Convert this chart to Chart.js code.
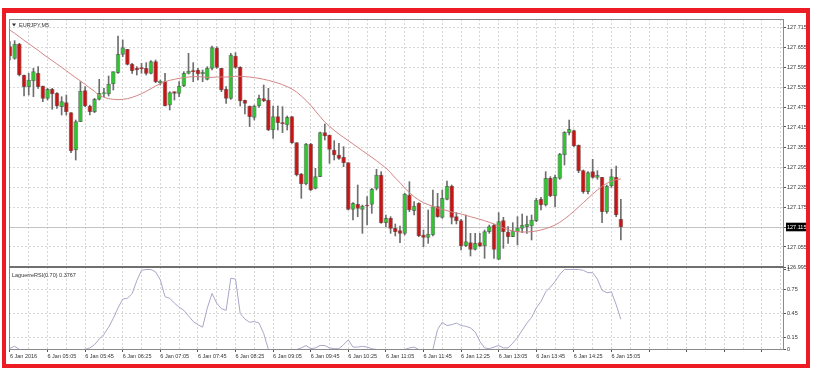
<!DOCTYPE html>
<html>
<head>
<meta charset="utf-8">
<script src="https://cdn.jsdelivr.net/npm/chart.js"></script>
<style>
  html, body { margin: 0; padding: 0; background: #fff; }
  #wrap { position: relative; width: 818px; height: 375px; }
  #frame { position: absolute; left: 2px; top: 8px; width: 808px; height: 360px; box-sizing: border-box;
           border: 4px solid #ed1c24; border-top-width: 5px; pointer-events: none; }
</style>
</head>
<body>
<div id="wrap">
  <canvas id="chart" width="818" height="375"></canvas>
  <div id="frame"></div>
</div>
<script>
var symbolTitle = "EURJPY,M5";
var rsiTitle = "LaguerreRSI(0.70) 0.3767";

// one label every 8 bars (40 minutes of M5)
var timeLabels = ["6 Jan 2016", "6 Jan 05:05", "6 Jan 05:45", "6 Jan 06:25", "6 Jan 07:05", "6 Jan 07:45",
    "6 Jan 08:25", "6 Jan 09:05", "6 Jan 09:45", "6 Jan 10:25", "6 Jan 11:05", "6 Jan 11:45",
    "6 Jan 12:25", "6 Jan 13:05", "6 Jan 13:45", "6 Jan 14:25", "6 Jan 15:05"];
var priceTicks = [126.995, 127.055, 127.115, 127.175, 127.235, 127.295, 127.355, 127.415, 127.475,
    127.535, 127.595, 127.655, 127.715];
var rsiTicks = [0, 0.15, 0.45, 0.75, 1];

var opens = [
    127.656, 127.621, 127.664, 127.571, 127.536, 127.553, 127.576, 127.538, 127.501, 127.528,
    127.516, 127.476, 127.488, 127.458, 127.346, 127.431, 127.524, 127.478, 127.461, 127.498,
    127.514, 127.514, 127.544, 127.578, 127.633, 127.648, 127.603, 127.591, 127.591, 127.591,
    127.576, 127.611, 127.548, 127.551, 127.481, 127.521, 127.516, 127.538, 127.576, 127.584,
    127.586, 127.574, 127.558, 127.591, 127.651, 127.591, 127.528, 127.501, 127.628, 127.594,
    127.495, 127.478, 127.444, 127.478, 127.500, 127.496, 127.406, 127.446, 127.427, 127.421,
    127.446, 127.368, 127.274, 127.244, 127.364, 127.231, 127.266, 127.398, 127.391, 127.346,
    127.331, 127.324, 127.308, 127.168, 127.183, 127.168, 127.181, 127.183, 127.231, 127.271,
    127.128, 127.141, 127.111, 127.104, 127.096, 127.211, 127.164, 127.186, 127.091, 127.084,
    127.091, 127.176, 127.144, 127.198, 127.238, 127.146, 127.134, 127.058, 127.068, 127.048,
    127.068, 127.058, 127.101, 127.121, 127.018, 127.134, 127.100, 127.086, 127.101, 127.111,
    127.116, 127.118, 127.134, 127.198, 127.181, 127.261, 127.208, 127.261, 127.331, 127.398,
    127.404, 127.361, 127.284, 127.221, 127.281, 127.264, 127.264, 127.161, 127.238, 127.264, 127.138];
var highs = [
    127.671, 127.674, 127.666, 127.571, 127.576, 127.591, 127.596, 127.538, 127.531, 127.531,
    127.518, 127.506, 127.511, 127.458, 127.436, 127.551, 127.536, 127.481, 127.501, 127.558,
    127.531, 127.568, 127.581, 127.688, 127.676, 127.648, 127.606, 127.596, 127.606, 127.608,
    127.614, 127.616, 127.556, 127.576, 127.521, 127.521, 127.551, 127.581, 127.636, 127.608,
    127.591, 127.586, 127.596, 127.658, 127.656, 127.591, 127.536, 127.636, 127.638, 127.596,
    127.496, 127.478, 127.481, 127.511, 127.541, 127.531, 127.478, 127.478, 127.476, 127.448,
    127.446, 127.368, 127.276, 127.366, 127.366, 127.291, 127.400, 127.424, 127.391, 127.374,
    127.366, 127.356, 127.308, 127.188, 127.241, 127.181, 127.206, 127.231, 127.288, 127.281,
    127.151, 127.146, 127.124, 127.118, 127.216, 127.251, 127.191, 127.188, 127.106, 127.166,
    127.226, 127.216, 127.226, 127.253, 127.241, 127.158, 127.138, 127.151, 127.096, 127.096,
    127.096, 127.106, 127.121, 127.124, 127.158, 127.144, 127.116, 127.128, 127.146, 127.154,
    127.148, 127.151, 127.201, 127.204, 127.281, 127.266, 127.271, 127.336, 127.401, 127.436,
    127.406, 127.361, 127.286, 127.281, 127.318, 127.284, 127.264, 127.241, 127.288, 127.298, 127.198];
var lows = [
    127.616, 127.618, 127.568, 127.508, 127.511, 127.506, 127.531, 127.491, 127.496, 127.468,
    127.471, 127.451, 127.451, 127.338, 127.316, 127.431, 127.476, 127.451, 127.458, 127.496,
    127.506, 127.508, 127.526, 127.576, 127.626, 127.601, 127.576, 127.571, 127.576, 127.571,
    127.574, 127.548, 127.541, 127.478, 127.466, 127.496, 127.506, 127.536, 127.574, 127.551,
    127.556, 127.551, 127.556, 127.586, 127.591, 127.521, 127.486, 127.498, 127.591, 127.478,
    127.454, 127.416, 127.436, 127.474, 127.491, 127.404, 127.381, 127.406, 127.398, 127.406,
    127.366, 127.268, 127.201, 127.241, 127.224, 127.229, 127.266, 127.376, 127.306, 127.316,
    127.318, 127.296, 127.166, 127.136, 127.146, 127.096, 127.121, 127.156, 127.226, 127.126,
    127.116, 127.096, 127.088, 127.068, 127.091, 127.161, 127.151, 127.086, 127.056, 127.066,
    127.088, 127.144, 127.141, 127.196, 127.124, 127.124, 127.046, 127.056, 127.028, 127.046,
    127.056, 127.021, 127.096, 127.021, 127.018, 127.051, 127.066, 127.086, 127.061, 127.098,
    127.096, 127.076, 127.131, 127.166, 127.178, 127.206, 127.176, 127.258, 127.301, 127.391,
    127.356, 127.278, 127.216, 127.214, 127.261, 127.258, 127.128, 127.156, 127.234, 127.146, 127.076];
var closes = [
    127.628, 127.664, 127.571, 127.536, 127.556, 127.581, 127.536, 127.501, 127.528, 127.514,
    127.478, 127.491, 127.461, 127.343, 127.431, 127.523, 127.478, 127.461, 127.498, 127.516,
    127.518, 127.544, 127.581, 127.633, 127.653, 127.603, 127.584, 127.586, 127.590, 127.576,
    127.611, 127.551, 127.553, 127.478, 127.518, 127.516, 127.538, 127.576, 127.583, 127.581,
    127.574, 127.580, 127.591, 127.653, 127.594, 127.526, 127.501, 127.631, 127.594, 127.493,
    127.486, 127.446, 127.478, 127.501, 127.494, 127.406, 127.446, 127.428, 127.425, 127.444,
    127.368, 127.271, 127.244, 127.364, 127.226, 127.266, 127.398, 127.388, 127.348, 127.331,
    127.321, 127.308, 127.168, 127.186, 127.171, 127.178, 127.178, 127.228, 127.271, 127.128,
    127.141, 127.111, 127.101, 127.096, 127.214, 127.166, 127.178, 127.088, 127.084, 127.094,
    127.176, 127.146, 127.201, 127.238, 127.144, 127.134, 127.058, 127.071, 127.048, 127.066,
    127.058, 127.101, 127.116, 127.048, 127.131, 127.101, 127.086, 127.103, 127.112, 127.121,
    127.124, 127.136, 127.196, 127.181, 127.261, 127.208, 127.264, 127.334, 127.399, 127.408,
    127.358, 127.284, 127.221, 127.278, 127.264, 127.270, 127.161, 127.238, 127.266, 127.151, 127.115];
var maValues = [
    127.706, 127.696, 127.686, 127.675, 127.665, 127.655, 127.645, 127.634, 127.624, 127.614,
    127.604, 127.594, 127.584, 127.573, 127.563, 127.553, 127.543, 127.532, 127.522, 127.509,
    127.504, 127.500, 127.498, 127.497, 127.498, 127.500, 127.504, 127.509, 127.515, 127.522,
    127.530, 127.538, 127.545, 127.551, 127.555, 127.558, 127.561, 127.563, 127.565, 127.566,
    127.566, 127.565, 127.564, 127.564, 127.565, 127.565, 127.565, 127.566, 127.567, 127.567,
    127.566, 127.565, 127.563, 127.561, 127.558, 127.555, 127.551, 127.547, 127.542, 127.536,
    127.529, 127.520, 127.508, 127.495, 127.480, 127.463, 127.446, 127.430, 127.417, 127.405,
    127.394, 127.384, 127.374, 127.364, 127.354, 127.344, 127.334, 127.324, 127.314, 127.303,
    127.292, 127.278, 127.262, 127.248, 127.232, 127.218, 127.206, 127.196, 127.188, 127.182,
    127.177, 127.172, 127.168, 127.164, 127.160, 127.157, 127.154, 127.150, 127.146, 127.142,
    127.138, 127.134, 127.129, 127.124, 127.118, 127.112, 127.107, 127.103, 127.101, 127.100,
    127.100, 127.101, 127.103, 127.106, 127.110, 127.115, 127.121, 127.129, 127.139, 127.150,
    127.162, 127.175, 127.188, 127.201, 127.214, 127.226, 127.237, 127.246, 127.253, 127.257, 127.259];
var rsiValues = [
    0.015, 0.04, 0, 0, 0, 0, 0, 0, 0, 0,
    0, 0, 0, 0, 0, 0, 0, 0.02, 0.06, 0.13,
    0.19, 0.28, 0.39, 0.52, 0.63, 0.64, 0.70, 0.86, 0.99, 1,
    1, 0.97, 0.87, 0.66, 0.64, 0.58, 0.53, 0.49, 0.42, 0.35,
    0.31, 0.28, 0.52, 0.70, 0.58, 0.51, 0.49, 0.89, 0.88, 0.45,
    0.38, 0.34, 0.35, 0.33, 0.20, 0, 0, 0, 0, 0,
    0, 0, 0.02, 0.05, 0.01, 0.02, 0.05, 0.05, 0.02, 0.01,
    0.01, 0.06, 0.12, 0.03, 0.03, 0.04, 0.03, 0.01, 0, 0,
    0, 0, 0, 0, 0, 0.02, 0.03, 0, 0, 0,
    0, 0.25, 0.34, 0.30, 0.31, 0.33, 0.30, 0.29, 0.27, 0.22,
    0.10, 0.02, 0.01, 0.03, 0.05, 0.02, 0.02, 0.08, 0.15, 0.24,
    0.33, 0.40, 0.52, 0.60, 0.72, 0.78, 0.85, 0.94, 1, 1,
    1, 1, 0.99, 0.96, 0.96, 0.88, 0.74, 0.71, 0.72, 0.56, 0.3767];

var lastPrice = closes[closes.length - 1];
var upColor = "#2fc52f";
var downColor = "#c81414";
var fontFamily = "'Liberation Sans', Arial, sans-serif";
var clear = "rgba(0,0,0,0)";

function candleColor(c) {
    var i = c.dataIndex;
    return closes[i] >= opens[i] ? upColor : downColor;
}

function candleEdge(c) {
    var i = c.dataIndex;
    return closes[i] >= opens[i] ? "rgba(40,70,40,0.55)" : "rgba(90,0,0,0.55)";
}

var framePlugin = {
    id: "frame",
    beforeDatasetsDraw: function (chart) {
        // bid line at the current price
        var a = chart.chartArea, ctx = chart.ctx;
        var y = Math.round(chart.scales.y.getPixelForValue(lastPrice)) + 0.5;
        ctx.save();
        ctx.strokeStyle = "#c4c4c4";
        ctx.lineWidth = 1;
        ctx.beginPath();
        ctx.moveTo(a.left, y);
        ctx.lineTo(a.right, y);
        ctx.stroke();
        ctx.restore();
    },
    afterDraw: function (chart) {
        var a = chart.chartArea, ctx = chart.ctx;
        var sep = Math.round(chart.scales.y.bottom);
        ctx.save();
        ctx.strokeStyle = "#8a8a8a";
        ctx.lineWidth = 1;
        ctx.strokeRect(a.left + 0.5, a.top + 0.5, a.right - a.left, a.bottom - a.top - 1);
        ctx.strokeStyle = "#707070";
        ctx.lineWidth = 2;
        ctx.beginPath();
        ctx.moveTo(a.left, sep);
        ctx.lineTo(a.right + 1, sep);
        ctx.stroke();

        ctx.fillStyle = "#333";
        ctx.font = "5.5px " + fontFamily;
        ctx.textBaseline = "middle";
        ctx.fillText(symbolTitle, a.left + 10, a.top + 6);
        ctx.fillText(rsiTitle, a.left + 3, sep + 8);
        ctx.beginPath();
        ctx.moveTo(a.left + 3, a.top + 4.5);
        ctx.lineTo(a.left + 7, a.top + 4.5);
        ctx.lineTo(a.left + 5, a.top + 7.5);
        ctx.closePath();
        ctx.fill();
        ctx.restore();
    }
};

new Chart(document.getElementById("chart"), {
    type: "bar",
    data: {
        datasets: [
            {
                type: "line",
                data: maValues.map(function (v, i) { return {x: i, y: v}; }),
                borderColor: "#d48585",
                borderWidth: 1,
                pointRadius: 0,
                yAxisID: "y",
                order: 0
            },
            {
                type: "bar",
                data: opens.map(function (o, i) { return {x: i, y: [o, closes[i]]}; }),
                backgroundColor: candleColor,
                borderColor: candleEdge,
                borderWidth: 1,
                borderSkipped: false,
                barThickness: 4,
                minBarLength: 1,
                grouped: false,
                yAxisID: "y",
                order: 1
            },
            {
                type: "bar",
                data: lows.map(function (l, i) { return {x: i, y: [l, highs[i]]}; }),
                backgroundColor: "#6e6e6e",
                barThickness: 1,
                grouped: false,
                yAxisID: "y",
                order: 2
            },
            {
                type: "line",
                data: rsiValues.map(function (v, i) { return {x: i, y: v}; }),
                borderColor: "#a7a7c9",
                borderWidth: 1,
                pointRadius: 0,
                yAxisID: "y2",
                order: 3
            }
        ]
    },
    options: {
        responsive: false,
        animation: false,
        events: [],
        layout: { padding: { left: 9, top: 19, right: 0, bottom: 0 } },
        plugins: { legend: { display: false }, tooltip: { enabled: false } },
        scales: {
            x: {
                type: "linear",
                min: -0.2,
                max: 164.5,
                offset: false,
                afterBuildTicks: function (s) {
                    var t = [];
                    for (var v = 0; v <= 164; v += 4) t.push({value: v});
                    s.ticks = t;
                },
                afterFit: function (s) { s.height = 25; },
                grid: {
                    offset: false,
                    color: function (c) { return c.tick && c.tick.value === 0 ? clear : "#d6d6d6"; },
                    tickLength: 2,
                    tickColor: function (c) { return c.tick && c.tick.value % 8 === 0 ? "#555" : clear; }
                },
                border: { display: false, dash: [2, 2] },
                ticks: {
                    autoSkip: false,
                    maxRotation: 0,
                    align: "start",
                    padding: 1,
                    color: "#333",
                    font: { family: fontFamily, size: 5.5 },
                    callback: function (v) {
                        return v % 8 === 0 && timeLabels[v / 8] ? timeLabels[v / 8] : "";
                    }
                }
            },
            y: {
                type: "linear",
                position: "right",
                stack: "pane",
                stackWeight: 248,
                min: 126.995,
                max: 127.739,
                afterBuildTicks: function (s) {
                    s.ticks = priceTicks.map(function (v) { return {value: v}; });
                },
                afterFit: function (s) { s.width = 35; },
                grid: { color: "#d6d6d6", tickLength: 3, tickColor: "#555" },
                border: { display: false, dash: [2, 2] },
                ticks: {
                    padding: 1,
                    font: { family: fontFamily, size: 5.5 },
                    color: function (c) { return c.tick && c.tick.value === lastPrice ? "#fff" : "#333"; },
                    showLabelBackdrop: true,
                    backdropPadding: 1,
                    backdropColor: function (c) { return c.tick && c.tick.value === lastPrice ? "#000" : clear; },
                    callback: function (v) { return v.toFixed(3); }
                }
            },
            y2: {
                type: "linear",
                position: "right",
                stack: "pane",
                stackWeight: 83,
                min: -0.00625,
                max: 1.03125,
                afterBuildTicks: function (s) {
                    s.ticks = rsiTicks.map(function (v) { return {value: v}; });
                },
                afterFit: function (s) { s.width = 35; },
                grid: {
                    color: function (c) { return c.tick && (c.tick.value === 0 || c.tick.value === 1) ? clear : "#d6d6d6"; },
                    tickLength: 3,
                    tickColor: "#555"
                },
                border: { display: false, dash: [2, 2] },
                ticks: {
                    padding: 1,
                    color: "#333",
                    font: { family: fontFamily, size: 5.5 },
                    callback: function (v) { return String(v); }
                }
            }
        }
    },
    plugins: [framePlugin]
});
</script>
</body>
</html>
